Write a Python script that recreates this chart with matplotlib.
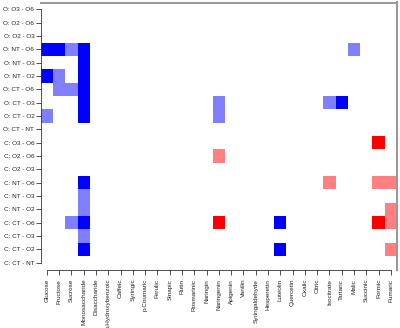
import numpy as np
import matplotlib
matplotlib.use('Agg')
import matplotlib.pyplot as plt
from matplotlib.colors import ListedColormap, BoundaryNorm

# comparisons, top to bottom
comparisons = ['O: O3 - O6', 'O: O2 - O6', 'O: O2 - O3', 'O: NT - O6', 'O: NT - O3',
               'O: NT - O2', 'O: CT - O6', 'O: CT - O3', 'O: CT - O2', 'O: CT - NT',
               'C: O3 - O6', 'C: O2 - O6', 'C: O2 - O3', 'C: NT - O6', 'C: NT - O3',
               'C: NT - O2', 'C: CT - O6', 'C: CT - O3', 'C: CT - O2', 'C: CT - NT']

compounds = ['Glucose', 'Fructose', 'Sucrose', 'Monosaccharide', 'Disaccharide',
             'p.Hydroxybenzoic', 'Caffeic', 'Syringic', 'p.Coumaric', 'Ferulic',
             'Sinapic', 'Rutin', 'Rosmarinic', 'Naringin', 'Naringenin', 'Apigenin',
             'Vanilin', 'Syringaldehyde', 'Hesperetin', 'Luteolin', 'Quercetin',
             'Oxalic', 'Citric', 'Isocitrate', 'Tartaric', 'Malic', 'Succinic',
             'Formic', 'Fumaric']

# non-empty cells: -2 strong down, -1 down, 1 up, 2 strong up
cell_rows = ['O: NT - O6', 'O: NT - O6', 'O: NT - O6', 'O: NT - O6', 'O: NT - O6',
             'O: NT - O3',
             'O: NT - O2', 'O: NT - O2', 'O: NT - O2',
             'O: CT - O6', 'O: CT - O6', 'O: CT - O6',
             'O: CT - O3', 'O: CT - O3', 'O: CT - O3', 'O: CT - O3',
             'O: CT - O2', 'O: CT - O2', 'O: CT - O2',
             'C: O3 - O6',
             'C: O2 - O6',
             'C: NT - O6', 'C: NT - O6', 'C: NT - O6', 'C: NT - O6',
             'C: NT - O3',
             'C: NT - O2', 'C: NT - O2',
             'C: CT - O6', 'C: CT - O6', 'C: CT - O6', 'C: CT - O6', 'C: CT - O6', 'C: CT - O6',
             'C: CT - O3',
             'C: CT - O2', 'C: CT - O2', 'C: CT - O2']
cell_cols = ['Glucose', 'Fructose', 'Sucrose', 'Monosaccharide', 'Malic',
             'Monosaccharide',
             'Glucose', 'Fructose', 'Monosaccharide',
             'Fructose', 'Sucrose', 'Monosaccharide',
             'Monosaccharide', 'Naringenin', 'Isocitrate', 'Tartaric',
             'Glucose', 'Monosaccharide', 'Naringenin',
             'Formic',
             'Naringenin',
             'Monosaccharide', 'Isocitrate', 'Formic', 'Fumaric',
             'Monosaccharide',
             'Monosaccharide', 'Fumaric',
             'Sucrose', 'Monosaccharide', 'Naringenin', 'Luteolin', 'Formic', 'Fumaric',
             'Monosaccharide',
             'Monosaccharide', 'Luteolin', 'Fumaric']
cell_vals = [-2, -2, -1, -2, -1,
             -2,
             -2, -1, -2,
             -1, -1, -2,
             -2, -1, -1, -2,
             -1, -2, -1,
             2,
             1,
             -2, 1, 1, 1,
             -1,
             -1, 1,
             -1, -2, 2, -2, 2, 1,
             -1,
             -2, -2, 1]

plt.rcParams['font.family'] = ['Liberation Sans', 'DejaVu Sans']

nr, nc = len(comparisons), len(compounds)
grid = np.zeros((nr, nc))
for r, c, v in zip(cell_rows, cell_cols, cell_vals):
    # row 0 at the bottom
    grid[nr - 1 - comparisons.index(r), compounds.index(c)] = v
grid = np.ma.masked_equal(grid, 0)

cmap = ListedColormap(['#0000FF', '#8080FF', '#FF8080', '#FF0000'])
norm = BoundaryNorm([-2.5, -1.5, 0, 1.5, 2.5], cmap.N)

fig = plt.figure(figsize=(4, 3.28), dpi=100)
ax = fig.add_axes([40.7 / 400, (328 - 269.5) / 328, (397 - 40.7) / 400, (269.5 - 2.5) / 328])

# spine layout first: set_position resets the tick labels
ax.spines['bottom'].set_position(('outward', 0.5))
for s in ['left', 'bottom']:
    ax.spines[s].set_color('#333333')
    ax.spines[s].set_linewidth(0.6)
for s in ['top', 'right']:
    ax.spines[s].set_color('#999999')
    ax.spines[s].set_linewidth(1.5)

ax.pcolormesh(np.arange(nc + 1) - 0.5, np.arange(nr + 1) - 0.5, grid,
              cmap=cmap, norm=norm)
ax.set_xlim(-0.5, nc - 0.5)
ax.set_ylim(-0.5, nr - 0.5)

ax.set_yticks(np.arange(nr))
ax.set_yticklabels(comparisons[::-1], fontsize=4.6, color='#222222')
ax.set_xticks(np.arange(nc))
ax.set_xticklabels(compounds, rotation=90, fontsize=4.6, color='#222222')
ax.tick_params(length=3.4, width=0.6, color='#333333')
ax.tick_params(axis='y', pad=1.2)
ax.tick_params(axis='x', pad=2.8)
ax.spines['left'].set_bounds(0, nr - 1)
ax.spines['bottom'].set_bounds(0, nc - 1)

fig.savefig('out.png', dpi=100, facecolor='white')
